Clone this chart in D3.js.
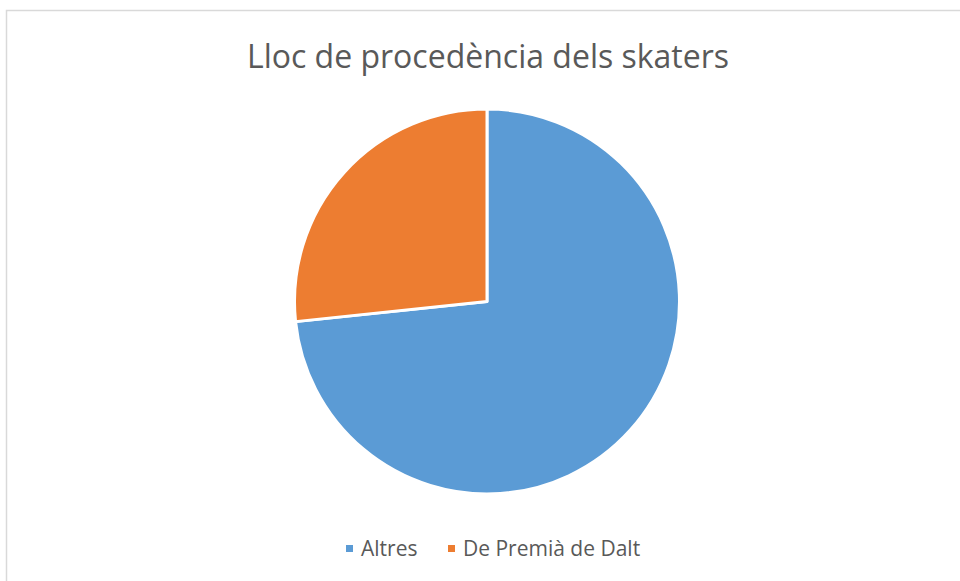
<!DOCTYPE html>
<meta charset="utf-8">
<style>
    body{ margin:0; background:#fff; }
    text{ font-family: "Open Sans", sans-serif; fill:#595959; }
</style>
<script src="https://d3js.org/d3.v7.min.js"></script>
<div id="chart"></div>
<script>
    // data
    const categories = ["Altres", "De Premià de Dalt"];
    const values = [11, 4];
    const colors = ["#5b9bd5", "#ed7d31"];
    const title = "Lloc de procedència dels skaters";

    const W = 960, H = 581;
    const cx = 487, cy = 301.5, radius = 192.5;

    const svg = d3.select("#chart")
      .append("svg")
        .attr("width", W)
        .attr("height", H);

    // chart area border
    svg.append("rect")
        .attr("x", 6.5).attr("y", 10.5)
        .attr("width", W).attr("height", H)
        .attr("fill", "none")
        .attr("stroke", "#d9d9d9")
        .attr("stroke-width", 1.5);

    svg.append("text")
        .attr("x", 488).attr("y", 68)
        .attr("text-anchor", "middle")
        .style("font-size", "32px")
        .text(title);

    const data = categories.map((c, i) => ({name: c, value: values[i]}));
    const color = d3.scaleOrdinal().domain(categories).range(colors);

    const pie = d3.pie().value(d => d.value).sort(null);
    const arc = d3.arc().innerRadius(0).outerRadius(radius);

    svg.append("g")
        .attr("transform", `translate(${cx},${cy})`)
      .selectAll("path")
      .data(pie(data))
      .join("path")
        .attr("d", arc)
        .attr("fill", d => color(d.data.name))
        .attr("stroke", "#fff")
        .attr("stroke-width", 3)
        .attr("stroke-linejoin", "round");

    // legend
    const legendX = [346, 448];
    const leg = svg.append("g")
      .selectAll("g")
      .data(categories)
      .join("g")
        .attr("transform", (d, i) => `translate(${legendX[i]},545)`);
    leg.append("rect")
        .attr("width", 7).attr("height", 7)
        .attr("fill", d => color(d));
    leg.append("text")
        .attr("x", 15).attr("y", 11)
        .style("font-size", "21px")
        .text(d => d);
</script>
